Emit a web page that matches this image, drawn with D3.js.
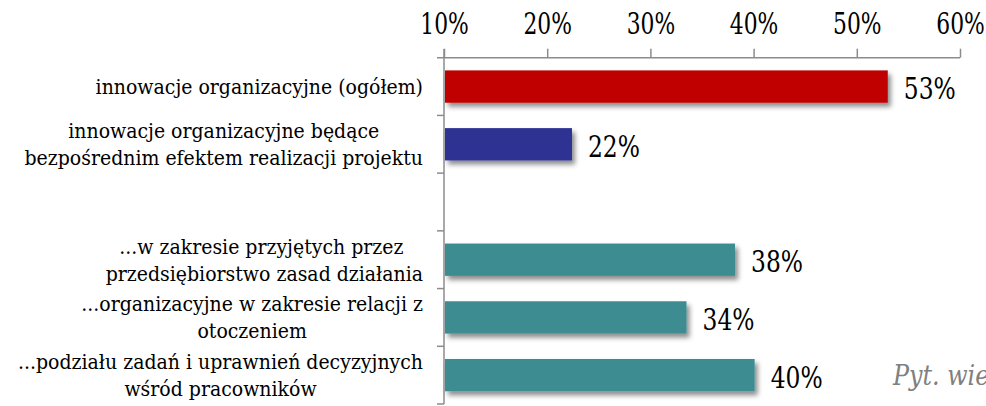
<!DOCTYPE html>
<html>
<head>
<meta charset="utf-8">
<script src="https://cdn.jsdelivr.net/npm/d3@7"></script>
<style>
  body { margin: 0; background: #fff; }
</style>
</head>
<body>
<div id="Chart"></div>
<script>
var w = 986;
var h = 406;

// data
var categories = [
    ["innowacje organizacyjne (ogółem)"],
    ["innowacje organizacyjne będące", "bezpośrednim efektem realizacji projektu"],
    [""],
    ["...w zakresie przyjętych przez ", "przedsiębiorstwo zasad działania"],
    ["...organizacyjne w zakresie relacji z", "otoczeniem"],
    ["...podziału zadań i uprawnień decyzyjnych", "wśród pracowników"]
];
var values = [0.530, 0.224, null, 0.382, 0.335, 0.401];
var valueLabels = ["53%", "22%", "", "38%", "34%", "40%"];
var barColors = ["#C00000", "#2E3192", null, "#3E8C91", "#3E8C91", "#3E8C91"];
var xTicks = [0.1, 0.2, 0.3, 0.4, 0.5, 0.6];
var note = "Pyt. wie";

var serif = "'DejaVu Serif', serif";

// DejaVu Serif is wider than the Times face of the original, so squeeze it
function squeeze(sel, k) {
    sel.each(function(){
        var len = this.getComputedTextLength();
        if (len > 0) {
            d3.select(this)
                .attr("textLength", len * k)
                .attr("lengthAdjust", "spacingAndGlyphs");
        }
    });
}

function doChart()
{
    var svg = d3.select("#Chart").append("svg")
        .attr("width", w)
        .attr("height", h)
        .style("font-family", serif)

    var defs = svg.append("defs");
    var f = defs.append("filter").attr("id", "shadow")
        .attr("x", "-5%").attr("y", "-20%").attr("width", "115%").attr("height", "160%");
    f.append("feDropShadow")
        .attr("dx", 3).attr("dy", 4)
        .attr("stdDeviation", 2.5)
        .attr("flood-color", "#000")
        .attr("flood-opacity", 0.45);

    var xScale = d3.scaleLinear()
        .domain([0.1, 0.6])
        .range([444, 960]);

    var yScale = d3.scaleBand()
        .domain(d3.range(categories.length))
        .range([57.7, 404])
        .paddingInner(0.44)
        .paddingOuter(0.22);

    var axisColor = "#8c8c8c";

    // top axis
    var xAxis = svg.append("g")
        .attr("transform", "translate(0,57.7)")
        .call(d3.axisTop(xScale)
            .tickValues(xTicks)
            .tickSize(9)
            .tickSizeOuter(0)
            .tickFormat(d3.format(".0%")));
    xAxis.attr("font-family", null);
    xAxis.select(".domain").attr("stroke", axisColor).attr("stroke-width", 1.5)
        .attr("d", "M437,0H960");
    xAxis.selectAll(".tick line").attr("stroke", axisColor).attr("stroke-width", 1.5);
    xAxis.selectAll(".tick text")
        .attr("fill", "#000")
        .attr("font-size", 29.5)
        .attr("y", -23.5)
        .call(squeeze, 0.74);

    // left axis with ticks on band boundaries
    var bounds = d3.range(categories.length + 1).map(function(i){
        return yScale.range()[0] + i * yScale.step();
    });
    svg.append("line")
        .attr("x1", xScale(0.1)).attr("x2", xScale(0.1))
        .attr("y1", 49).attr("y2", bounds[bounds.length - 1])
        .attr("stroke", axisColor).attr("stroke-width", 1.5);
    svg.append("g").selectAll("line")
        .data(bounds.slice(1))
        .enter()
        .append("line")
        .attr("x1", xScale(0.1) - 7).attr("x2", xScale(0.1))
        .attr("y1", function(d){ return d; })
        .attr("y2", function(d){ return d; })
        .attr("stroke", axisColor).attr("stroke-width", 1.5);

    var idx = d3.range(categories.length).filter(function(i){ return values[i] != null; });

    // bars
    svg.append("g").selectAll("rect")
        .data(idx)
        .enter()
        .append("rect")
        .attr("x", xScale(0.1) + 1)
        .attr("y", function(i){ return yScale(i); })
        .attr("width", function(i){ return xScale(values[i]) - xScale(0.1) - 1; })
        .attr("height", yScale.bandwidth())
        .attr("fill", function(i){ return barColors[i]; })
        .attr("filter", "url(#shadow)");

    // value labels
    svg.append("g").selectAll("text")
        .data(idx)
        .enter()
        .append("text")
        .attr("x", function(i){ return xScale(values[i]) + 16; })
        .attr("y", function(i){ return yScale(i) + yScale.bandwidth() / 2 + 12.5; })
        .attr("font-size", 30)
        .attr("fill", "#000")
        .text(function(i){ return valueLabels[i]; })
        .call(squeeze, 0.78);

    // category labels (Excel style: lines centred within a right-aligned block)
    var labelRight = 423;
    var lineH = 27;
    categories.forEach(function(lines, i){
        if (!lines[0]) return;
        var g = svg.append("g");
        var cy = yScale(i) + yScale.bandwidth() / 2;
        var texts = lines.map(function(t, j){
            return g.append("text")
                .attr("font-size", 21)
                .attr("fill", "#000")
                .style("white-space", "pre")
                .attr("text-anchor", "middle")
                .attr("y", cy + 7.5 + (j - (lines.length - 1) / 2) * lineH)
                .text(t)
                .call(squeeze, 0.9);
        });
        var maxW = d3.max(texts, function(t){ return +t.attr("textLength"); });
        texts.forEach(function(t){ t.attr("x", labelRight - maxW / 2); });
    });

    // note at the bottom right (cut off in the original)
    svg.append("text")
        .attr("x", 893)
        .attr("y", 385)
        .attr("font-size", 28)
        .attr("font-style", "italic")
        .attr("fill", "#808080")
        .text(note)
        .call(squeeze, 0.85);
}

doChart();
</script>
</body>
</html>
